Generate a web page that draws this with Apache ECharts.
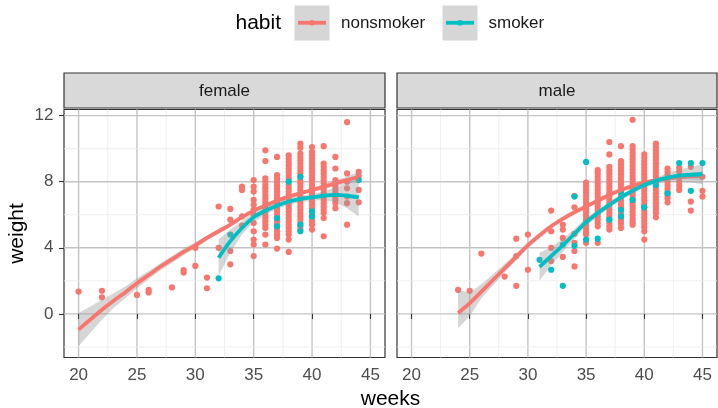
<!DOCTYPE html>
<html>
<head>
<meta charset="utf-8">
<script src="https://cdn.jsdelivr.net/npm/echarts@6/dist/echarts.min.js"></script>
<style>html,body{margin:0;padding:0;background:#fff}#chart{width:718px;height:408px}</style>
</head>
<body>
<div id="chart"></div>
<script>
// ---------- DATA ----------
const xTicks = [20, 25, 30, 35, 40, 45];
const yTicks = [0, 4, 8, 12];
const xMinor = [22.5, 27.5, 32.5, 37.5, 42.5];
const yMinor = [-2, 2, 6, 10];
const panels = ['female', 'male'];
const habits = ['nonsmoker', 'smoker'];

// points: [week, [weights...]]
const femaleNonsmoker = [
  [20, [1.35]], [22, [1.4, 1.0]], [25, [1.15]], [26, [1.45, 1.3]], [28, [1.6]],
  [29, [2.65, 2.5]], [30, [2.9, 4.0]], [31, [2.2, 1.55]], [32, [6.5, 4.0]],
  [33, [6.35, 5.7, 3.8, 3.0]], [34, [7.7, 7.5, 5.9, 5.35]],
  [35, [8.1, 7.7, 7.4, 6.9, 6.6, 6.3, 6.0, 5.5, 5.0, 4.5, 4.2, 3.5]],
  [36, [9.9, 9.25, 8.2, 8.0, 7.8, 7.6, 7.4, 7.2, 7.0, 6.8, 6.6, 6.4, 6.2, 6.0, 5.8, 5.6, 5.4, 5.2, 4.8, 4.2]],
  [37, [9.5, 8.4, 8.2, 8.0, 7.8, 7.6, 7.4, 7.2, 7.0, 6.8, 6.6, 6.4, 6.2, 6.0, 5.8, 5.6, 5.4, 5.2, 5.0, 4.8, 4.6, 3.95]],
  [38, [9.6, 9.4, 9.2, 9.0, 8.8, 8.6, 8.4, 8.2, 8.0, 7.8, 7.6, 7.4, 7.2, 7.0, 6.8, 6.6, 6.4, 6.2, 6.0, 5.8, 5.6, 5.4, 5.2, 5.0, 4.8, 4.5, 3.75]],
  [39, [10.3, 10.05, 9.7, 9.5, 9.3, 9.1, 8.9, 8.7, 8.5, 8.3, 8.1, 7.9, 7.7, 7.5, 7.3, 7.1, 6.9, 6.7, 6.5, 6.3, 6.1, 5.9, 5.7, 5.5, 5.3, 5.1]],
  [40, [10.1, 9.8, 9.6, 9.4, 9.2, 9.0, 8.8, 8.6, 8.4, 8.2, 8.0, 7.8, 7.6, 7.4, 7.2, 7.0, 6.8, 6.6, 6.4, 6.2, 6.0, 5.8, 5.6, 5.4, 5.1]],
  [41, [10.15, 9.1, 8.9, 8.7, 8.5, 8.3, 8.1, 7.9, 7.7, 7.5, 7.3, 7.1, 6.9, 6.7, 6.5, 6.3, 6.1, 5.8, 4.7]],
  [42, [9.5, 8.8, 8.1, 7.9, 7.7, 7.5, 7.3, 7.1, 6.9, 6.7, 6.4]],
  [43, [11.6, 8.5, 8.0, 7.6, 7.1, 6.7, 5.4]],
  [44, [8.6, 8.35, 7.5, 6.75]]
];
const femaleSmoker = [
  [32, [2.15]], [33, [4.8]], [37, [5.8, 5.3]], [38, [8.0]], [39, [8.3, 5.4, 5.0]],
  [40, [6.2, 5.9]], [44, [8.1]]
];
const maleNonsmoker = [
  [24, [1.45]], [25, [1.4]], [26, [3.65]], [28, [2.26]], [29, [4.55, 3.5, 1.7]],
  [30, [4.8, 2.67]], [32, [6.25, 5.0, 4.0, 3.2]], [33, [5.4, 5.1, 4.6, 3.45]],
  [34, [7.15, 6.45, 4.85, 4.3, 3.8, 2.87]],
  [35, [7.95, 7.75, 7.55, 7.35, 7.15, 6.95, 6.75, 6.55, 6.35, 6.15, 5.95, 5.75, 5.55, 5.35, 5.15, 4.95, 4.8, 4.3]],
  [36, [8.7, 8.5, 8.3, 8.1, 7.9, 7.7, 7.5, 7.3, 7.1, 6.9, 6.7, 6.5, 6.3, 6.1, 5.9, 5.7, 5.5, 5.3, 4.3]],
  [37, [10.4, 9.65, 8.9, 8.7, 8.5, 8.3, 8.1, 7.9, 7.7, 7.5, 7.3, 7.1, 6.9, 6.7, 6.5, 6.3, 6.1, 5.9, 5.7, 5.5, 5.3, 5.1]],
  [38, [10.15, 9.25, 9.05, 8.85, 8.65, 8.45, 8.25, 8.05, 7.85, 7.65, 7.45, 7.25, 7.05, 6.85, 6.65, 6.45, 6.25, 6.05, 5.85, 5.65, 5.45, 5.2]],
  [39, [11.75, 10.15, 9.95, 9.75, 9.55, 9.35, 9.15, 8.95, 8.75, 8.55, 8.35, 8.15, 7.95, 7.75, 7.55, 7.35, 7.15, 6.95, 6.75, 6.55, 6.35, 6.15, 5.95, 5.75, 5.55, 5.4]],
  [40, [9.65, 9.45, 9.25, 9.05, 8.85, 8.65, 8.45, 8.25, 8.05, 7.85, 7.65, 7.45, 7.25, 7.05, 6.85, 6.65, 6.45, 6.25, 6.05, 5.85, 5.65, 5.45, 5.25, 5.0, 4.5]],
  [41, [10.3, 10.1, 9.9, 9.7, 9.5, 9.3, 9.1, 8.9, 8.7, 8.5, 8.3, 8.1, 7.9, 7.7, 7.5, 7.3, 7.1, 6.9, 6.7, 6.5, 6.3, 6.1, 5.85]],
  [42, [8.8, 8.6, 8.4, 8.2, 8.0, 7.8, 7.6, 7.4, 7.2, 7.0, 6.75]],
  [43, [8.85, 8.6, 8.3, 8.0, 7.75, 7.5]],
  [44, [8.9, 6.8, 6.25]],
  [45, [8.3, 7.45, 7.1]]
];
const maleSmoker = [
  [31, [3.27]], [32, [2.67]], [33, [4.2, 1.7]], [34, [7.1, 4.12]], [35, [9.2, 4.5]],
  [36, [4.55]], [37, [5.7]], [38, [7.35, 6.3, 5.9]], [39, [6.9]], [40, [6.45]],
  [41, [7.8]], [42, [7.3]], [43, [9.13]], [44, [9.13, 7.45]], [45, [9.13]]
];

// smooth fits with confidence band
const fNonX   = [20, 21, 22, 23, 24, 25, 26, 27, 28, 29, 30, 31, 32, 33, 34, 35, 36, 37, 38, 39, 40, 41, 42, 43, 44];
const fNonFit = [-0.95, -0.35, 0.25, 0.8, 1.3, 1.85, 2.35, 2.85, 3.3, 3.75, 4.15, 4.6, 5.0, 5.4, 5.85, 6.25, 6.55, 6.85, 7.1, 7.3, 7.5, 7.7, 7.9, 8.1, 8.3];
const fNonLo  = [-1.95, -1.15, -0.35, 0.35, 0.95, 1.55, 2.1, 2.63, 3.1, 3.55, 3.97, 4.45, 4.87, 5.28, 5.75, 6.15, 6.45, 6.75, 7.0, 7.2, 7.38, 7.55, 7.72, 7.88, 8.0];
const fNonUp  = [0.05, 0.45, 0.85, 1.25, 1.65, 2.15, 2.6, 3.07, 3.5, 3.95, 4.33, 4.75, 5.13, 5.52, 5.95, 6.35, 6.65, 6.95, 7.2, 7.4, 7.62, 7.85, 8.08, 8.32, 8.6];

const fSmX   = [32, 33, 34, 35, 36, 37, 38, 39, 40, 41, 42, 43, 44];
const fSmFit = [3.4, 4.4, 5.2, 5.85, 6.25, 6.55, 6.8, 6.95, 7.05, 7.15, 7.2, 7.15, 7.05];
const fSmLo  = [2.3, 3.7, 4.8, 5.55, 6.0, 6.35, 6.6, 6.75, 6.85, 6.9, 6.75, 6.4, 5.9];
const fSmUp  = [4.5, 5.1, 5.6, 6.15, 6.5, 6.75, 7.0, 7.15, 7.25, 7.4, 7.65, 7.9, 8.2];

const mNonX   = [24, 25, 26, 27, 28, 29, 30, 31, 32, 33, 34, 35, 36, 37, 38, 39, 40, 41, 42, 43, 44, 45];
const mNonFit = [0.05, 0.65, 1.35, 2.05, 2.75, 3.45, 4.15, 4.75, 5.3, 5.75, 6.15, 6.5, 6.85, 7.2, 7.5, 7.75, 7.95, 8.1, 8.2, 8.28, 8.33, 8.36];
const mNonLo  = [-0.87, -0.15, 0.95, 1.72, 2.5, 3.25, 3.98, 4.6, 5.17, 5.65, 6.05, 6.4, 6.75, 7.1, 7.4, 7.65, 7.85, 8.0, 8.08, 8.13, 8.13, 8.08];
const mNonUp  = [1.45, 1.3, 1.8, 2.4, 3.03, 3.67, 4.33, 4.9, 5.43, 5.85, 6.25, 6.6, 6.95, 7.3, 7.6, 7.85, 8.05, 8.2, 8.32, 8.43, 8.53, 8.64];

const mSmX   = [31, 32, 33, 34, 35, 36, 37, 38, 39, 40, 41, 42, 43, 44, 45];
const mSmFit = [2.85, 3.5, 4.15, 4.85, 5.55, 6.1, 6.6, 7.05, 7.45, 7.8, 8.05, 8.25, 8.37, 8.42, 8.45];
const mSmLo  = [2.0, 2.95, 3.75, 4.55, 5.3, 5.9, 6.42, 6.88, 7.3, 7.63, 7.85, 7.98, 8.0, 7.95, 7.85];
const mSmUp  = [3.7, 4.05, 4.55, 5.15, 5.8, 6.3, 6.78, 7.22, 7.6, 7.97, 8.25, 8.52, 8.74, 8.89, 9.05];

// ---------- STYLE ----------
const PINK = '#F8766D', TEAL = '#00BFC4';
const FONT = '"Liberation Sans", Arial, sans-serif';
const X_MIN = 18.75, X_MAX = 46.25, Y_MIN = -2.64, Y_MAX = 12.37;
const gridBoxes = [
  { left: 64, top: 109.5, width: 321, height: 248 },
  { left: 397, top: 109.5, width: 320, height: 248 }
];

function flatten(groups) {
  const out = [];
  groups.forEach(g => g[1].forEach(w => out.push([g[0], w])));
  return out;
}
function zip(xs, ys) { return xs.map((x, i) => [x, ys[i]]); }

function gridLineSeries(idx) {
  const data = [];
  xTicks.forEach(v => data.push([v, 0, 1]));
  xMinor.forEach(v => data.push([v, 0, 0]));
  yTicks.forEach(v => data.push([v, 1, 1]));
  yMinor.forEach(v => data.push([v, 1, 0]));
  return {
    type: 'custom', xAxisIndex: idx, yAxisIndex: idx, z: 0, silent: true,
    data: data,
    renderItem: function (params, api) {
      const v = api.value(0), orient = api.value(1), major = api.value(2);
      let p1, p2;
      if (orient === 0) { p1 = api.coord([v, Y_MIN]); p2 = api.coord([v, Y_MAX]); }
      else { p1 = api.coord([X_MIN, v]); p2 = api.coord([X_MAX, v]); }
      return {
        type: 'line',
        shape: { x1: p1[0], y1: p1[1], x2: p2[0], y2: p2[1] },
        style: { stroke: major ? '#C4C4C4' : '#EBEBEB', lineWidth: major ? 1.4 : 0.8 }
      };
    }
  };
}

function bandSeries(idx, xs, lo, up, z) {
  return {
    type: 'custom', xAxisIndex: idx, yAxisIndex: idx, z: z, silent: true,
    data: [[xs[0], lo[0]]],
    renderItem: function (params, api) {
      const pts = [];
      for (let i = 0; i < xs.length; i++) pts.push(api.coord([xs[i], up[i]]));
      for (let i = xs.length - 1; i >= 0; i--) pts.push(api.coord([xs[i], lo[i]]));
      return { type: 'polygon', shape: { points: pts, smooth: 0 }, style: { fill: 'rgba(153,153,153,0.4)' } };
    }
  };
}

function lineSeries(idx, xs, fit, color, z) {
  return {
    type: 'line', xAxisIndex: idx, yAxisIndex: idx, z: z, silent: true,
    data: zip(xs, fit), smooth: 0.35, showSymbol: false, symbol: 'none',
    lineStyle: { color: color, width: 3.8 }
  };
}

function scatterSeries(idx, groups, color, z) {
  return {
    type: 'scatter', xAxisIndex: idx, yAxisIndex: idx, z: z, silent: true,
    data: flatten(groups), symbolSize: 6.2,
    itemStyle: { color: color, opacity: 1 }
  };
}

const chart = echarts.init(document.getElementById('chart'), null, { renderer: 'canvas' });

const xAxes = gridBoxes.map((g, i) => ({
  type: 'value', gridIndex: i, min: X_MIN, max: X_MAX,
  splitLine: { show: false },
  axisLine: { show: false },
  axisTick: { show: true, customValues: xTicks, length: 5, lineStyle: { color: '#333', width: 1.1 } },
  axisLabel: { customValues: xTicks, color: '#4D4D4D', fontSize: 17, fontFamily: FONT, margin: 9 }
}));
const yAxes = gridBoxes.map((g, i) => ({
  type: 'value', gridIndex: i, min: Y_MIN, max: Y_MAX,
  splitLine: { show: false },
  axisLine: { show: false },
  axisTick: { show: i === 0, customValues: yTicks, length: 5, lineStyle: { color: '#333', width: 1.1 } },
  axisLabel: { show: i === 0, customValues: yTicks, color: '#4D4D4D', fontSize: 17, fontFamily: FONT, margin: 10.5 }
}));

const series = [
  gridLineSeries(0), gridLineSeries(1),
  scatterSeries(0, femaleNonsmoker, PINK, 2),
  scatterSeries(0, femaleSmoker, TEAL, 2.5),
  bandSeries(0, fNonX, fNonLo, fNonUp, 3),
  lineSeries(0, fNonX, fNonFit, PINK, 4),
  bandSeries(0, fSmX, fSmLo, fSmUp, 5),
  lineSeries(0, fSmX, fSmFit, TEAL, 6),
  scatterSeries(1, maleNonsmoker, PINK, 2),
  scatterSeries(1, maleSmoker, TEAL, 2.5),
  bandSeries(1, mNonX, mNonLo, mNonUp, 3),
  lineSeries(1, mNonX, mNonFit, PINK, 4),
  bandSeries(1, mSmX, mSmLo, mSmUp, 5),
  lineSeries(1, mSmX, mSmFit, TEAL, 6)
];

// strips, legend and axis titles
const graphics = [];
gridBoxes.forEach((g, i) => {
  graphics.push({ type: 'rect', shape: { x: g.left, y: 73, width: g.width, height: 35 },
    style: { fill: '#D9D9D9', stroke: '#333', lineWidth: 1.2 }, z: 10 });
  graphics.push({ type: 'text', x: g.left + g.width / 2, y: 91,
    style: { text: panels[i], fill: '#1A1A1A', font: '17px ' + FONT, textAlign: 'center', textVerticalAlign: 'middle' }, z: 11 });
});
graphics.push({ type: 'text', x: 235.5, y: 23.5,
  style: { text: 'habit', fill: '#000', font: '21px ' + FONT, textAlign: 'left', textVerticalAlign: 'middle' } });
const keyX = [294.5, 442.5], labX = [341, 488.5], keyCol = [PINK, TEAL];
habits.forEach((h, i) => {
  graphics.push({ type: 'rect', shape: { x: keyX[i], y: 5.5, width: 35, height: 35 }, style: { fill: '#D6D6D6' } });
  graphics.push({ type: 'line', shape: { x1: keyX[i] + 3.5, y1: 22.8, x2: keyX[i] + 31.5, y2: 22.8 },
    style: { stroke: keyCol[i], lineWidth: 3.8 } });
  graphics.push({ type: 'circle', shape: { cx: keyX[i] + 17.5, cy: 22.8, r: 2.8 }, style: { fill: keyCol[i] } });
  graphics.push({ type: 'text', x: labX[i], y: 23.5,
    style: { text: h, fill: '#1A1A1A', font: '17px ' + FONT, textAlign: 'left', textVerticalAlign: 'middle' } });
});
graphics.push({ type: 'text', x: 390.5, y: 399.5,
  style: { text: 'weeks', fill: '#000', font: '21px ' + FONT, textAlign: 'center', textVerticalAlign: 'middle' } });
graphics.push({ type: 'text', x: 17, y: 233.5, rotation: Math.PI / 2,
  style: { text: 'weight', fill: '#000', font: '21px ' + FONT, textAlign: 'center', textVerticalAlign: 'middle' } });

chart.setOption({
  animation: false,
  backgroundColor: '#fff',
  grid: gridBoxes.map(g => Object.assign({ show: true, borderColor: '#333', borderWidth: 1.2, backgroundColor: '#fff', containLabel: false }, g)),
  xAxis: xAxes,
  yAxis: yAxes,
  series: series,
  graphic: graphics
});
</script>
</body>
</html>
